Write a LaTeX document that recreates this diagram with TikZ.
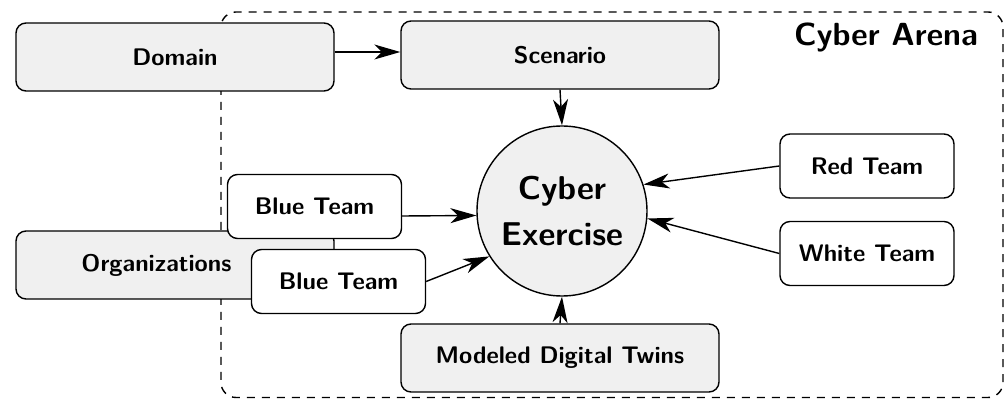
\documentclass[tikz,border=0pt]{standalone}
\usepackage{fontspec}
\usetikzlibrary{arrows.meta}
\definecolor{boxgray}{RGB}{240,240,240}
\begin{document}
\begin{tikzpicture}[x=0.5pt,y=-0.5pt,
  every node/.style={font=\sffamily\bfseries\large, inner sep=0pt, line width=0.7pt},
  graybox/.style={draw, fill=boxgray, rounded corners=5pt, minimum width=159pt, minimum height=34pt},
  teambox/.style={draw, fill=white, rounded corners=5pt, minimum width=87pt, minimum height=32pt},
  arr/.style={line width=0.7pt, -{Stealth[length=13pt,width=7.5pt,inset=3.8pt]}},
  arena/.style={draw, line width=0.7pt, dash pattern=on 4pt off 3.5pt, rounded corners=7.5pt}]
\useasboundingbox (0,0) rectangle (1007,400);
\draw[arena] (221,12) rectangle (1003,397.5);
\node[font=\sffamily\bfseries\fontsize{16}{19}\selectfont] (title) at (886,37) {Cyber Arena};
\node[graybox] (domain) at (175,57) {Domain};
\node[graybox] (scenario) at (560,55) {Scenario};
\node[graybox] (org) at (175,265) {Organizations\kern18.5pt};
\node[teambox] (bt1) at (314.5,206.5) {Blue Team};
\node[teambox] (bt2) at (338.5,281.5) {Blue Team};
\node[teambox] (red) at (867,166) {Red Team};
\node[teambox] (white) at (867,253.5) {White Team};
\node[graybox] (twins) at (560,358) {Modeled Digital Twins};
\node[draw, circle, fill=boxgray, minimum size=85pt, align=center,
      font=\sffamily\bfseries\fontsize{16.5}{23}\selectfont] (ce) at (562,211) {Cyber\\Exercise};
\draw[arr] ([yshift=2.5pt]domain.east) -- ([yshift=2.5pt]domain.east -| scenario.west);
\draw[arr] (scenario.south) -- (ce.north);
\draw[arr] (red.west) -- (ce.18);
\draw[arr] (white.west) -- (ce.355);
\draw[arr] ([yshift=-4.75pt]bt1.east) -- (ce.183.4);
\draw[arr] (bt2.east) -- (ce.212);
\draw[arr] (twins.north) -- (ce.south);
\end{tikzpicture}
\end{document}
